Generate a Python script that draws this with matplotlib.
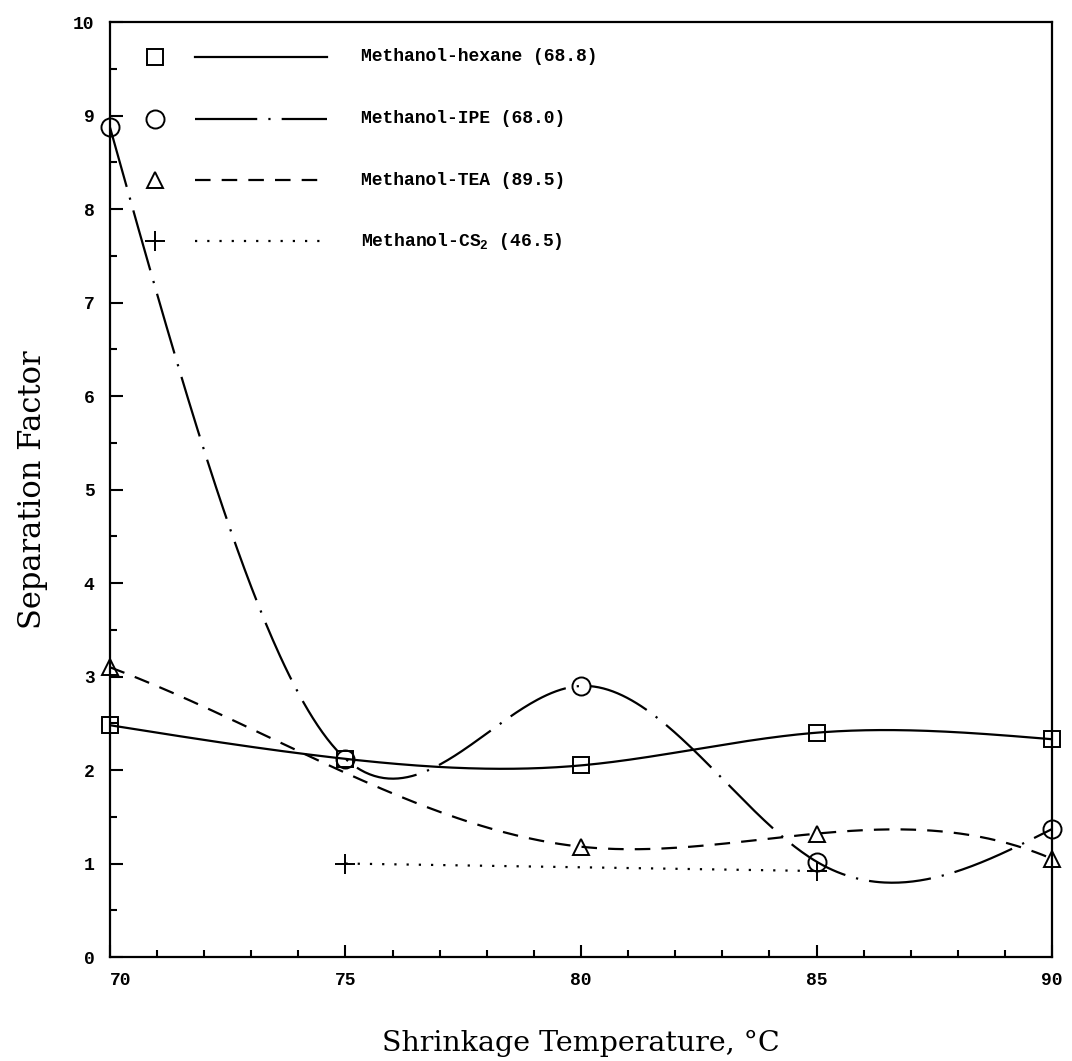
import matplotlib

matplotlib.use("Agg")
import matplotlib.pyplot as plt
import numpy as np
from matplotlib.ticker import MultipleLocator

# Shrinkage temperature (deg C) and separation factor for each feed mixture
temps = [70, 75, 80, 85, 90]
hexane = [2.48, 2.12, 2.05, 2.40, 2.33]
ipe = [8.88, 2.12, 2.90, 1.02, 1.37]
tea = [3.10, 1.97, 1.18, 1.32, 1.05]
tea_marked = [True, False, True, True, True]  # no symbol plotted at 75
cs2_temps = [75, 85]
cs2 = [1.00, 0.92]

labels = [
    "Methanol-hexane (68.8)",
    "Methanol-IPE (68.0)",
    "Methanol-TEA (89.5)",
    r"Methanol-CS$_{\mathregular{2}}$ (46.5)",
]


def cubic_spline(x, y, xs, end="natural"):
    x = np.asarray(x, float)
    y = np.asarray(y, float)
    n = len(x)
    h = np.diff(x)
    A = np.zeros((n, n))
    b = np.zeros(n)
    if end == "natural":
        A[0, 0] = A[-1, -1] = 1.0
    else:  # not-a-knot
        A[0, :3] = [h[1], -(h[0] + h[1]), h[0]]
        A[-1, -3:] = [h[-1], -(h[-2] + h[-1]), h[-2]]
    for i in range(1, n - 1):
        A[i, i - 1] = h[i - 1]
        A[i, i] = 2 * (h[i - 1] + h[i])
        A[i, i + 1] = h[i]
        b[i] = 6 * ((y[i + 1] - y[i]) / h[i] - (y[i] - y[i - 1]) / h[i - 1])
    m = np.linalg.solve(A, b)
    idx = np.clip(np.searchsorted(x, xs) - 1, 0, n - 2)
    x0, x1 = x[idx], x[idx + 1]
    hh = x1 - x0
    t0 = x1 - xs
    t1 = xs - x0
    return (m[idx] * t0 ** 3 / (6 * hh) + m[idx + 1] * t1 ** 3 / (6 * hh)
            + (y[idx] / hh - m[idx] * hh / 6) * t0
            + (y[idx + 1] / hh - m[idx + 1] * hh / 6) * t1)


fig = plt.figure(figsize=(10.72, 10.61), dpi=100)
ax = fig.add_axes([0.1025, 0.098, 0.879, 0.881])

xs = np.linspace(70, 90, 400)
lw = 1.6
ls_ipe = (0, (28, 5, 1, 5))
ls_tea = (0, (7, 5))
ls_cs2 = (0, (1, 4.5))

ax.plot(xs, cubic_spline(temps, hexane, xs), color="black", lw=lw, ls="-")
ax.plot(xs, cubic_spline(temps, ipe, xs), color="black", lw=lw, ls=ls_ipe)
ax.plot(xs, cubic_spline(temps, tea, xs, end="not-a-knot"), color="black",
        lw=lw, ls=ls_tea)
ax.plot(cs2_temps, cs2, color="black", lw=lw, ls=ls_cs2)

mk = dict(color="black", ls="none", fillstyle="none", mew=1.4, clip_on=False)
ax.plot(temps, hexane, marker="s", ms=12, **mk)
ax.plot(temps, ipe, marker="o", ms=13, **mk)
ax.plot(np.array(temps)[tea_marked], np.array(tea)[tea_marked],
        marker="^", ms=12, **mk)
ax.plot(cs2_temps, cs2, marker="+", ms=15, **mk)

# legend drawn by hand: marker, then line sample, then label
rows = [0.963, 0.897, 0.831, 0.766]
styles = [("s", "-", 12), ("o", ls_ipe, 13), ("^", ls_tea, 12), ("+", ls_cs2, 15)]
for y, (m, ls, ms), text in zip(rows, styles, labels):
    ax.plot([0.048], [y], marker=m, ms=ms, color="black", fillstyle="none",
            mew=1.4, transform=ax.transAxes)
    ax.plot([0.090, 0.230], [y, y], color="black", lw=lw, ls=ls,
            transform=ax.transAxes)
    ax.text(0.266, y, text, transform=ax.transAxes, va="center", ha="left",
            fontsize=13, fontweight="bold", family="Liberation Mono")

ax.set_xlim(70, 90)
ax.set_ylim(0, 10)
ax.xaxis.set_major_locator(MultipleLocator(5))
ax.xaxis.set_minor_locator(MultipleLocator(1))
ax.yaxis.set_major_locator(MultipleLocator(1))
ax.yaxis.set_minor_locator(MultipleLocator(0.5))
ax.tick_params(which="both", direction="in", top=False, right=False, width=1.5)
ax.tick_params(which="major", length=9, pad=11)
ax.tick_params(which="minor", length=5)
for lab in ax.get_xticklabels() + ax.get_yticklabels():
    lab.set_fontweight("bold")
    lab.set_family("Liberation Mono")
    lab.set_fontsize(13)
# the 70 label starts at the corner instead of centring on it
for tick, loc in zip(ax.xaxis.get_major_ticks(), ax.xaxis.get_majorticklocs()):
    if np.isclose(loc, 70):
        tick.label1.set_horizontalalignment("left")
for sp in ax.spines.values():
    sp.set_linewidth(1.6)

ax.set_xlabel("Shrinkage Temperature, °C", family="DejaVu Serif",
              fontsize=20.5, labelpad=29)
ax.set_ylabel("Separation Factor", family="DejaVu Serif", fontsize=22,
              labelpad=18)

fig.savefig("out.png", dpi=100)
